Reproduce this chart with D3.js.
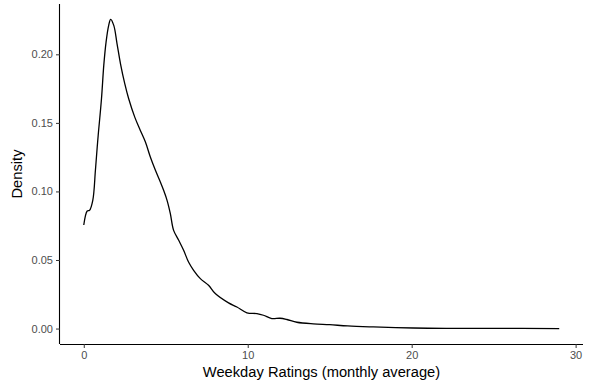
<!DOCTYPE html>
<html>
<head>
<meta charset="utf-8">
<script src="https://cdn.jsdelivr.net/npm/d3@7"></script>
<style>
  body { margin: 0; background: #fff; }
  svg { display: block; font-family: "Liberation Sans", Arial, sans-serif; }
</style>
</head>
<body>
<svg width="589" height="390"></svg>
<script>
// density curve
const ratings = [0, 0.21, 0.35, 0.55, 0.71, 0.82, 0.88, 1.08, 1.22, 1.36, 1.52, 1.64, 1.83, 2.03, 2.24, 2.5, 2.74,
  3.11, 3.45, 3.76, 4.06, 4.37, 4.67, 4.87, 5.08, 5.28, 5.48, 5.79, 6.09, 6.39, 6.7, 7.11, 7.61, 8.02, 8.83,
  9.34, 9.95, 10.56, 10.96, 11.47, 11.97, 12.39, 13, 14, 15, 16.1, 17.66, 20.1, 22.1, 25, 29];
const density = [0.0755, 0.0857, 0.0862, 0.0935, 0.1154, 0.1324, 0.141, 0.1676, 0.1919, 0.2089, 0.2211, 0.2255, 0.2211,
  0.2077, 0.1931, 0.1786, 0.1676, 0.1542, 0.1445, 0.136, 0.1251, 0.1154, 0.1069, 0.1008, 0.0935, 0.0838, 0.0716,
  0.0644, 0.0571, 0.0485, 0.0425, 0.0364, 0.0316, 0.0255, 0.0187, 0.0157, 0.0115, 0.0109, 0.0097, 0.0073,
  0.0075, 0.0066, 0.0046, 0.0034, 0.0028, 0.0019, 0.0012, 0.0004, 0.0001, 0.0001, 0.0];
const xTicks = [0, 10, 20, 30];
const yTicks = [0, 0.05, 0.1, 0.15, 0.2];

const svg = d3.select("svg");
const m = { left: 60, right: 583, top: 4, bottom: 344 };

const x = d3.scaleLinear().domain([-1.45, 30.45]).range([m.left, m.right]);
const y = d3.scaleLinear().domain([-0.01127, 0.2367]).range([m.bottom, m.top]);

const pts = ratings.map((r, i) => [r, density[i]]);

svg.append("path")
  .datum(pts)
  .attr("fill", "none")
  .attr("stroke", "#000")
  .attr("stroke-width", 1.3)
  .attr("d", d3.line().x(d => x(d[0])).y(d => y(d[1])).curve(d3.curveCatmullRom.alpha(0.5)));

const xAxis = svg.append("g")
  .attr("transform", `translate(0,${m.bottom})`)
  .call(d3.axisBottom(x).tickValues(xTicks).tickSize(4).tickPadding(3).tickFormat(d3.format("d")));
xAxis.select(".domain").attr("d", `M${m.left},0.5H${m.right}`).attr("stroke", "#000").attr("stroke-width", 1.1);

const yAxis = svg.append("g")
  .attr("transform", `translate(${m.left},0)`)
  .call(d3.axisLeft(y).tickValues(yTicks).tickSize(4).tickPadding(3).tickFormat(d3.format(".2f")));
yAxis.select(".domain").attr("d", `M-0.5,${m.top}V${m.bottom}`).attr("stroke", "#000").attr("stroke-width", 1.1);

svg.selectAll(".tick line").attr("stroke", "#333");
svg.selectAll(".tick text").attr("fill", "#4d4d4d").style("font-size", "11px");

svg.append("text")
  .attr("x", (m.left + m.right) / 2).attr("y", 377)
  .attr("text-anchor", "middle")
  .style("font-size", "14.7px")
  .text("Weekday Ratings (monthly average)");

svg.append("text")
  .attr("transform", `translate(22,${(m.top + m.bottom) / 2}) rotate(-90)`)
  .attr("text-anchor", "middle")
  .style("font-size", "14.7px")
  .text("Density");
</script>
</body>
</html>
